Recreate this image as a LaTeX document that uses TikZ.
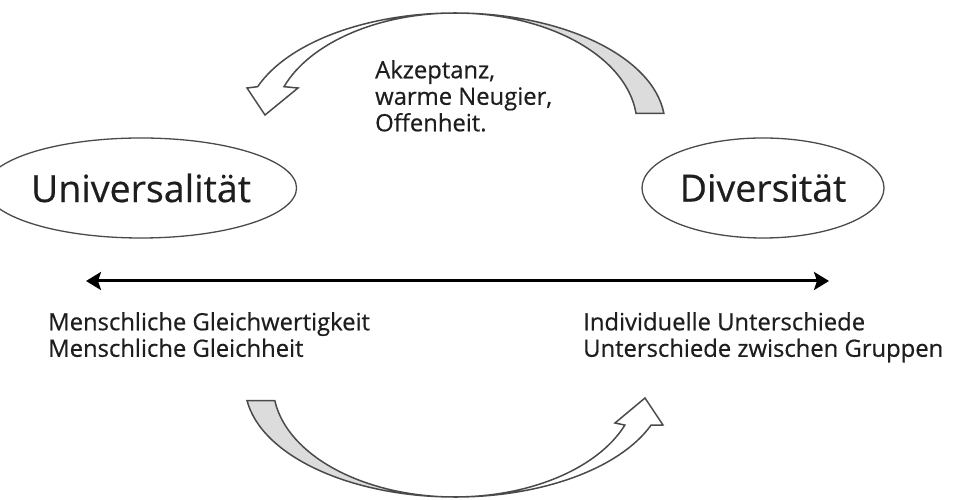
\documentclass[tikz,border=0pt]{standalone}
\usepackage{fontspec}
\setmainfont{Open Sans}[BoldFont={Open Sans}, BoldFeatures={FakeBold=0.5}]
\usetikzlibrary{arrows.meta,shapes.geometric}
\definecolor{inkline}{HTML}{4A4A4A}
\definecolor{bandgray}{HTML}{DCDCDC}
\definecolor{txt}{HTML}{1E1E1E}
\tikzset{
  pole/.style={draw=inkline, line width=1.3pt, ellipse, minimum width=#1, minimum height=100pt, inner sep=0pt, text=txt, font=\fontsize{37.5}{40}\selectfont\bfseries},
  band/.style={draw=inkline, line width=1.5pt, line join=miter},
  label/.style={inner sep=0pt, anchor=north west, align=left, text=txt, font=\fontsize{23.8}{26.5}\selectfont\bfseries},
  axis/.style={line width=3pt, {Stealth[length=15pt,width=18pt,inset=3pt]}-{Stealth[length=15pt,width=18pt,inset=3pt]}}
}
\begin{document}
\begin{tikzpicture}[x=1pt,y=1pt]
\useasboundingbox (0,0) rectangle (969,500);

% the two poles
\node[pole=256pt] (uni) at (141,312) {Universalität};
\node[pole=242pt] (div) at (763,312) {Diversität};

% axis between the poles
\coordinate (axL) at (86,219);
\coordinate (axR) at (829,219);
\draw[axis] (axL) -- (axR);

% labels under the axis
\node[label] (left) at (48,188) {Menschliche Gleichwertigkeit\\Menschliche Gleichheit};
\node[label] (right) at (583,188) {Individuelle Unterschiede\\Unterschiede zwischen Gruppen};

% upper curved arrow: back side (grey) and front side with head
\draw[band, fill=bandgray] (455,487) arc[start angle=90, end angle=6, x radius=210, y radius=112]
  -- (455+181,386.7) arc[start angle=6, end angle=90, x radius=182, y radius=112] -- cycle;
\draw[band, fill=white] (455,487) arc[start angle=90, end angle=160, x radius=210, y radius=112]
  -- (247,412) -- (265,385) -- (298,412)
  -- (455-171,413.3) arc[start angle=160, end angle=90, x radius=182, y radius=112] -- cycle;

\node[label] (top) at (375,440) {Akzeptanz,\\warme Neugier,\\Offenheit.};

% lower curved arrow: back side (grey) and front side with head
\draw[band, fill=bandgray] (455,3) arc[start angle=270, end angle=188, x radius=210, y radius=112]
  -- (455-180.2,99.4) arc[start angle=188, end angle=270, x radius=182, y radius=112] -- cycle;
\draw[band, fill=white] (455,3) arc[start angle=270, end angle=339, x radius=210, y radius=112]
  -- (663,75) -- (645,102) -- (615,77)
  -- (455+169.9,74.9) arc[start angle=339, end angle=270, x radius=182, y radius=112] -- cycle;
\end{tikzpicture}
\end{document}
